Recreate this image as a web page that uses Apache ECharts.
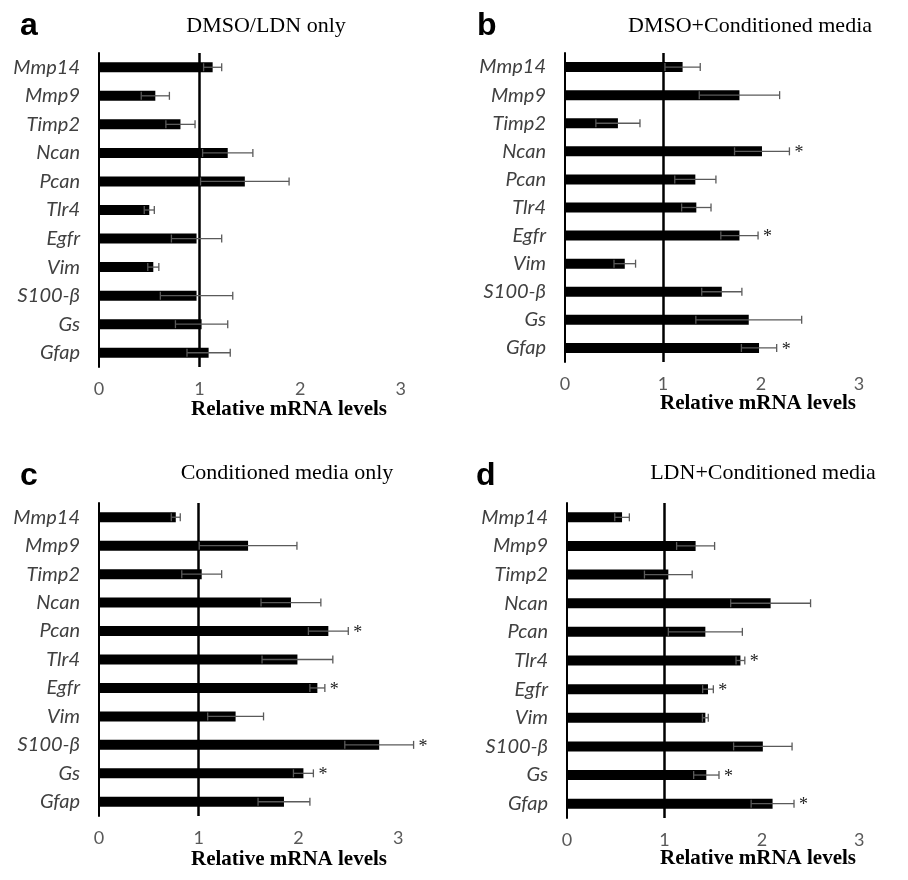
<!DOCTYPE html>
<html>
<head>
<meta charset="utf-8">
<script src="https://cdn.jsdelivr.net/npm/echarts@6/dist/echarts.min.js"></script>
<style>
    html, body { margin: 0; padding: 0; background: #fff; }
    #chart { width: 908px; height: 880px; }
</style>
</head>
<body>
<div id="chart"></div>
<script>
    var genes = ['Mmp14', 'Mmp9', 'Timp2', 'Ncan', 'Pcan', 'Tlr4', 'Egfr', 'Vim', 'S100-β', 'Gs', 'Gfap'];
    var tickValues = [0, 1, 2, 3];

    // a: DMSO/LDN only
    var meanA = [1.13, 0.56, 0.81, 1.28, 1.45, 0.50, 0.97, 0.54, 0.97, 1.02, 1.09];
    var errA  = [0.09, 0.14, 0.145, 0.25, 0.44, 0.05, 0.25, 0.055, 0.36, 0.26, 0.215];
    var starA = [0, 0, 0, 0, 0, 0, 0, 0, 0, 0, 0];

    // b: DMSO+Conditioned media
    var meanB = [1.20, 1.78, 0.54, 2.01, 1.33, 1.34, 1.78, 0.61, 1.60, 1.875, 1.98];
    var errB  = [0.18, 0.41, 0.225, 0.28, 0.21, 0.15, 0.19, 0.11, 0.205, 0.54, 0.18];
    var starB = [0, 0, 0, 1, 0, 0, 1, 0, 0, 0, 1];

    // c: Conditioned media only
    var meanC = [0.77, 1.495, 1.03, 1.925, 2.30, 1.99, 2.19, 1.37, 2.81, 2.05, 1.855];
    var errC  = [0.045, 0.49, 0.2, 0.3, 0.2, 0.355, 0.075, 0.28, 0.345, 0.1, 0.26];
    var starC = [0, 0, 0, 0, 1, 0, 1, 0, 1, 1, 0];

    // d: LDN+Conditioned media
    var meanD = [0.565, 1.32, 1.04, 2.09, 1.42, 1.78, 1.447, 1.42, 2.01, 1.43, 2.11];
    var errD  = [0.075, 0.195, 0.245, 0.41, 0.38, 0.045, 0.055, 0.03, 0.3, 0.13, 0.22];
    var starD = [0, 0, 0, 0, 0, 1, 1, 0, 0, 1, 1];

    var panels = [
        {letter: 'a', title: 'DMSO/LDN only', mean: meanA, err: errA, star: starA,
         grid: {left: 99, top: 53, width: 352, height: 314}, letterPos: [20, 10], titlePos: [266, 26], namePos: [289, 410]},
        {letter: 'b', title: 'DMSO+Conditioned media', mean: meanB, err: errB, star: starB,
         grid: {left: 565, top: 53, width: 348, height: 309}, letterPos: [477, 10], titlePos: [750, 26], namePos: [758, 404]},
        {letter: 'c', title: 'Conditioned media only', mean: meanC, err: errC, star: starC,
         grid: {left: 99, top: 503, width: 349, height: 313}, letterPos: [20, 460], titlePos: [287, 473], namePos: [289, 860]},
        {letter: 'd', title: 'LDN+Conditioned media', mean: meanD, err: errD, star: starD,
         grid: {left: 567, top: 503, width: 350, height: 315}, letterPos: [476, 460], titlePos: [763, 473], namePos: [758, 859]}
    ];

    function renderErr(params, api) {
        var mean = api.value(0), idx = api.value(1), err = api.value(2), star = api.value(3);
        var lo = api.coord([mean - err, idx]);
        var hi = api.coord([mean + err, idx]);
        var cap = 4;
        var style = {stroke: '#5a5a5a', lineWidth: 1.3};
        var children = [
            {type: 'line', shape: {x1: lo[0], y1: lo[1], x2: hi[0], y2: hi[1]}, style: style},
            {type: 'line', shape: {x1: lo[0], y1: lo[1] - cap, x2: lo[0], y2: lo[1] + cap}, style: style},
            {type: 'line', shape: {x1: hi[0], y1: hi[1] - cap, x2: hi[0], y2: hi[1] + cap}, style: style}
        ];
        if (star) {
            children.push({type: 'text', x: hi[0] + 5, y: hi[1] + 2, style: {
                text: '*', fill: '#222', font: '18px "Liberation Serif"', textAlign: 'left', textVerticalAlign: 'middle'
            }});
        }
        return {type: 'group', children: children};
    }

    var grids = [], xAxes = [], yAxes = [], series = [], graphics = [];

    panels.forEach(function(p, i) {
        grids.push(p.grid);
        xAxes.push({
            type: 'value', gridIndex: i, min: 0, max: 3.5, interval: 1,
            splitLine: {show: false},
            axisLine: {lineStyle: {color: '#000', width: 2}},
            axisTick: {inside: true, length: 6, customValues: tickValues, lineStyle: {color: '#000', width: 1.5}},
            axisLabel: {customValues: tickValues, margin: 13, color: '#595959', fontFamily: 'Lato', fontSize: 18}
        });
        yAxes.push({
            type: 'category', gridIndex: i, data: genes, inverse: true,
            axisLine: {lineStyle: {color: '#000', width: 2}},
            axisTick: {show: false},
            axisLabel: {margin: 19, color: '#404040', fontFamily: 'Lato', fontStyle: 'italic', fontSize: 20}
        });
        series.push({
            type: 'bar', xAxisIndex: i, yAxisIndex: i, data: p.mean, barWidth: 10,
            itemStyle: {color: '#000'}, silent: true,
            markLine: {
                silent: true, symbol: 'none', label: {show: false},
                lineStyle: {color: '#000', width: 2.5, type: 'solid'},
                data: [{xAxis: 1}]
            }
        });
        series.push({
            type: 'custom', xAxisIndex: i, yAxisIndex: i, renderItem: renderErr,
            encode: {x: 0, y: 1}, z: 5,
            data: p.mean.map(function(m, k) { return [m, k, p.err[k], p.star[k]]; })
        });
        graphics.push({type: 'text', left: p.letterPos[0], top: p.letterPos[1],
            style: {text: p.letter, fill: '#000', font: 'bold 32px "Liberation Sans"'}});
        graphics.push({type: 'text', x: p.titlePos[0], y: p.titlePos[1],
            style: {text: p.title, fill: '#000', font: '22px "Liberation Serif"', textAlign: 'center', textVerticalAlign: 'middle'}});
        graphics.push({type: 'text', x: p.namePos[0], y: p.namePos[1],
            style: {text: 'Relative mRNA levels', fill: '#000', font: 'bold 21px "Liberation Serif"', textAlign: 'center', textVerticalAlign: 'middle'}});
    });

    var chart = echarts.init(document.getElementById('chart'), null, {renderer: 'canvas'});
    chart.setOption({
        animation: false,
        backgroundColor: '#fff',
        grid: grids,
        xAxis: xAxes,
        yAxis: yAxes,
        series: series,
        graphic: graphics
    });
</script>
</body>
</html>
